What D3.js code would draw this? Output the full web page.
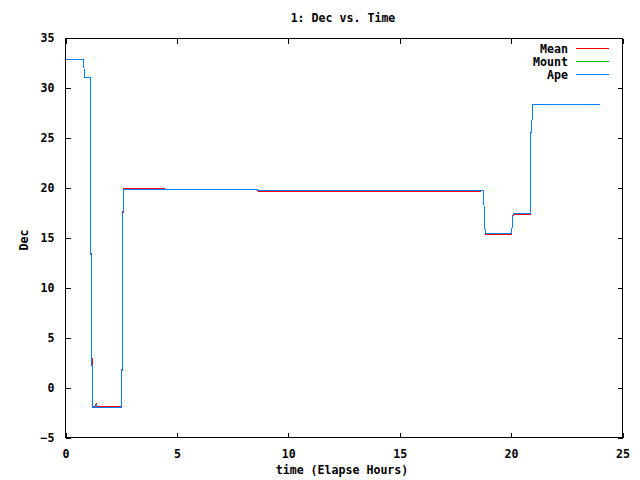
<!DOCTYPE html>
<html>
<head>
<meta charset="utf-8">
<script src="https://cdn.jsdelivr.net/npm/d3@7"></script>
<style>
  body { margin: 0; background: #fff; }
  text { font-family: "DejaVu Sans Mono", monospace; font-weight: bold; font-size: 11.6px; fill: #000; }
</style>
</head>
<body>
<div id="chart"></div>
<script>
// data (time in elapsed hours, Dec in degrees)
const apeTime = [0, 0.79, 0.80, 0.83, 0.84, 1.10, 1.11, 1.17, 1.21, 1.35, 1.38, 1.41, 2.53, 2.55, 2.59, 8.63, 8.65, 18.77, 18.79, 18.84, 20.02, 20.04, 20.06, 20.10, 20.87, 20.89, 20.93, 20.95, 23.99];
const apeDec  = [32.8, 32.8, 32.0, 32.0, 31.0, 31.0, 22.8, 6.4, -2.0, -2.0, -1.7, -2.0, -2.0, 9.0, 19.8, 19.8, 19.7, 19.7, 17.6, 15.4, 15.4, 15.9, 16.9, 17.4, 17.4, 25.5, 25.6, 28.3, 28.3];

const mountTime = [0, 0.79, 0.80, 0.83, 0.84, 1.10, 1.11, 1.17, 1.21, 1.35, 1.38, 1.41, 2.53, 2.55, 2.59, 8.63, 8.65, 18.77, 18.79, 18.84, 20.02, 20.04, 20.06, 20.10, 20.87, 20.89, 20.93, 20.95, 23.99];
const mountDec  = [32.8, 32.8, 32.0, 32.0, 31.0, 31.0, 22.8, 6.4, -2.0, -2.0, -1.7, -2.0, -2.0, 9.0, 19.8, 19.8, 19.7, 19.7, 17.6, 15.4, 15.4, 15.9, 16.9, 17.4, 17.4, 25.5, 25.6, 28.3, 28.3];

const meanTime = [0, 0.79, 0.80, 0.83, 0.84, 1.10, 1.105, 1.175, 1.21, 1.35, 1.37, 1.40, 2.53, 2.55, 2.59, 4.45, 4.47, 8.63, 8.65, 18.63, 18.65, 18.77, 18.79, 18.84, 20.02, 20.04, 20.06, 20.10, 20.87, 20.88, 20.89, 20.93, 20.95, 23.99];
const meanDec  = [32.8, 32.8, 32.0, 32.0, 31.0, 31.0, 22.8, 6.4, -1.9, -1.9, -1.6, -1.9, -1.9, 9.0, 19.9, 19.9, 19.8, 19.8, 19.6, 19.6, 19.7, 19.7, 17.6, 15.3, 15.3, 15.9, 16.9, 17.3, 17.3, 20.1, 25.5, 25.6, 28.3, 28.3];

const xTicks = [0, 5, 10, 15, 20, 25];
const yTicks = [-5, 0, 5, 10, 15, 20, 25, 30, 35];

const width = 640, height = 480;
const plotLeft = 65.5, plotRight = 622.5, plotTop = 38.5, plotBottom = 437.5;

const svg = d3.select('#chart').append('svg')
  .attr('width', width)
  .attr('height', height);

const x = d3.scaleLinear().domain([0, 25]).range([plotLeft, plotRight]);
const y = d3.scaleLinear().domain([-5, 35]).range([plotBottom, plotTop - 1]);

// series, drawn in gnuplot order so Ape ends up on top
const series = [
  { name: 'Mean',  color: '#ff0000', t: meanTime,  v: meanDec },
  { name: 'Mount', color: '#00c000', t: mountTime, v: mountDec },
  { name: 'Ape',   color: '#0080ff', t: apeTime,   v: apeDec }
];

const line = d3.line()
  .x(d => x(d[0]))
  .y(d => y(d[1]));

series.forEach(function (s) {
  svg.append('path')
    .datum(s.t.map((t, i) => [t, s.v[i]]))
    .attr('d', line)
    .attr('fill', 'none')
    .attr('stroke', s.color)
    .attr('stroke-width', 1)
    .attr('shape-rendering', 'crispEdges');
});

// axes: ticks inward on all four sides
const tick = 5;
svg.append('g')
  .attr('transform', 'translate(0,' + plotBottom + ')')
  .call(d3.axisBottom(x).tickValues(xTicks).tickSizeInner(-tick).tickSizeOuter(0).tickPadding(12));
svg.append('g')
  .attr('transform', 'translate(0,' + plotTop + ')')
  .call(d3.axisTop(x).tickValues(xTicks).tickSizeInner(-tick).tickSizeOuter(0).tickFormat(''));
svg.append('g')
  .attr('transform', 'translate(' + plotLeft + ',0)')
  .call(d3.axisLeft(y).tickValues(yTicks).tickSizeInner(-tick).tickSizeOuter(0).tickPadding(11));
svg.append('g')
  .attr('transform', 'translate(' + plotRight + ',0)')
  .call(d3.axisRight(y).tickValues(yTicks).tickSizeInner(-tick).tickSizeOuter(0).tickFormat(''));

svg.selectAll('.domain').remove();
svg.selectAll('.tick line').attr('stroke', '#000').attr('shape-rendering', 'crispEdges');
svg.selectAll('.tick text')
  .style('font-family', '"DejaVu Sans Mono", monospace')
  .style('font-weight', 'bold')
  .style('font-size', '11.6px')
  .attr('fill', '#000');

svg.append('rect')
  .attr('x', plotLeft).attr('y', plotTop)
  .attr('width', plotRight - plotLeft).attr('height', plotBottom - plotTop)
  .attr('fill', 'none')
  .attr('stroke', '#000')
  .attr('shape-rendering', 'crispEdges');

// titles
svg.append('text')
  .attr('x', 343).attr('y', 22)
  .attr('text-anchor', 'middle')
  .text('1: Dec vs. Time');

svg.append('text')
  .attr('x', 342).attr('y', 474)
  .attr('text-anchor', 'middle')
  .text('time (Elapse Hours)');

svg.append('text')
  .attr('transform', 'translate(28,240) rotate(-90)')
  .attr('text-anchor', 'middle')
  .text('Dec');

// legend
const legend = svg.append('g');
series.forEach(function (s, i) {
  const ly = 48.5 + i * 13;
  legend.append('text')
    .attr('x', 568).attr('y', ly + 4)
    .attr('text-anchor', 'end')
    .text(s.name);
  legend.append('line')
    .attr('x1', 576).attr('x2', 609)
    .attr('y1', ly).attr('y2', ly)
    .attr('stroke', s.color)
    .attr('shape-rendering', 'crispEdges');
});
</script>
</body>
</html>
